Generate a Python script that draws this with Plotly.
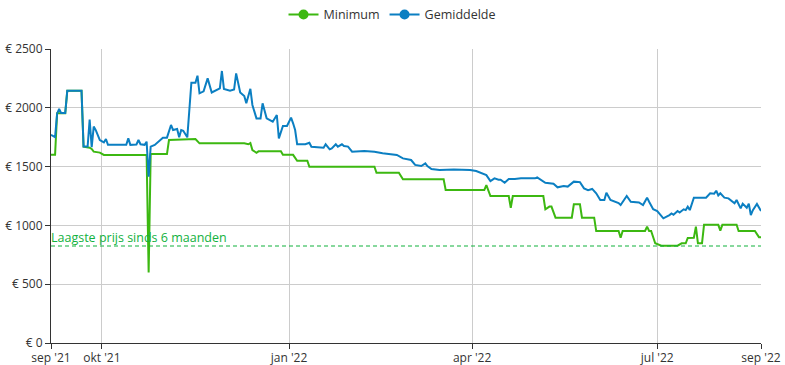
import plotly.graph_objects as go

# ---- data ----
avg_dates = ["2021-09-06","2021-09-08","2021-09-09","2021-09-10","2021-09-11","2021-09-13","2021-09-14","2021-09-21","2021-09-22","2021-09-24",
             "2021-09-25","2021-09-26","2021-09-27","2021-09-28","2021-09-30","2021-10-02","2021-10-03","2021-10-04","2021-10-13","2021-10-14",
             "2021-10-15","2021-10-18","2021-10-19","2021-10-20","2021-10-22","2021-10-23","2021-10-24","2021-10-25","2021-10-27","2021-10-29",
             "2021-10-31","2021-11-02","2021-11-04","2021-11-05","2021-11-07","2021-11-08","2021-11-09","2021-11-10","2021-11-12","2021-11-14",
             "2021-11-16","2021-11-17","2021-11-18","2021-11-20","2021-11-22","2021-11-24","2021-11-27","2021-11-28","2021-11-29","2021-11-30",
             "2021-12-03","2021-12-05","2021-12-06","2021-12-08","2021-12-10","2021-12-11","2021-12-13","2021-12-14","2021-12-16","2021-12-18",
             "2021-12-19","2021-12-21","2021-12-24","2021-12-26","2021-12-27","2021-12-29","2021-12-31","2022-01-02","2022-01-03","2022-01-04",
             "2022-01-05","2022-01-09","2022-01-11","2022-01-12","2022-01-18","2022-01-19","2022-01-21","2022-01-22","2022-01-24","2022-01-25",
             "2022-01-27","2022-01-28","2022-01-30","2022-02-01","2022-02-07","2022-02-12","2022-02-16","2022-02-23","2022-02-26","2022-03-02",
             "2022-03-04","2022-03-07","2022-03-09","2022-03-10","2022-03-12","2022-03-16","2022-03-23","2022-03-31","2022-04-03","2022-04-06",
             "2022-04-08","2022-04-10","2022-04-12","2022-04-14","2022-04-15","2022-04-17","2022-04-19","2022-04-22","2022-04-25","2022-05-02",
             "2022-05-03","2022-05-07","2022-05-11","2022-05-13","2022-05-16","2022-05-18","2022-05-21","2022-05-24","2022-05-26","2022-05-28",
             "2022-05-30","2022-06-01","2022-06-03","2022-06-05","2022-06-06","2022-06-08","2022-06-10","2022-06-12","2022-06-13","2022-06-16",
             "2022-06-18","2022-06-22","2022-06-24","2022-06-26","2022-06-27","2022-06-29","2022-07-01","2022-07-04","2022-07-07","2022-07-08",
             "2022-07-09","2022-07-11","2022-07-12","2022-07-14","2022-07-15","2022-07-16","2022-07-17","2022-07-19","2022-07-25","2022-07-27",
             "2022-07-29","2022-07-30","2022-07-31","2022-08-01","2022-08-03","2022-08-05","2022-08-08","2022-08-09","2022-08-11","2022-08-12",
             "2022-08-14","2022-08-15","2022-08-16","2022-08-17","2022-08-19","2022-08-21"]
avg_values = [1770,1750,1950,1990,1955,1955,2145,2145,1670,1670,
              1900,1665,1840,1810,1725,1705,1735,1685,1685,1740,
              1685,1688,1726,1690,1685,1712,1415,1670,1684,1712,
              1746,1746,1854,1811,1820,1749,1811,1805,1749,2213,
              2213,2273,2123,2140,2250,2130,2160,2165,2313,2160,
              2145,2155,2293,2130,2100,2038,2162,2024,1910,1910,
              2038,1910,1882,1939,1740,1845,1845,1916,1868,1811,
              1690,1690,1703,1669,1661,1690,1647,1655,1690,1670,
              1690,1675,1670,1627,1632,1627,1613,1599,1570,1556,
              1514,1505,1528,1505,1480,1471,1475,1471,1462,1443,
              1428,1377,1400,1389,1389,1363,1394,1394,1400,1400,
              1409,1363,1355,1324,1335,1330,1372,1368,1315,1300,
              1310,1273,1216,1216,1278,1216,1201,1190,1173,1250,
              1201,1195,1173,1236,1201,1137,1122,1060,1088,1102,
              1090,1122,1110,1137,1130,1159,1130,1236,1236,1273,
              1270,1295,1255,1273,1236,1230,1188,1216,1145,1185,
              1150,1185,1088,1130,1182,1122]

min_dates = ["2021-09-06","2021-09-08","2021-09-09","2021-09-13","2021-09-14","2021-09-21","2021-09-22","2021-09-25","2021-09-26","2021-09-27",
             "2021-09-30","2021-10-02","2021-10-23","2021-10-24","2021-10-25","2021-11-02","2021-11-03","2021-11-12","2021-11-16","2021-11-18",
             "2021-12-10","2021-12-12","2021-12-13","2021-12-14","2021-12-16","2021-12-17","2021-12-28","2021-12-29","2022-01-03","2022-01-05",
             "2022-01-10","2022-01-11","2022-02-12","2022-02-13","2022-02-24","2022-02-26","2022-03-18","2022-03-19","2022-04-07","2022-04-08",
             "2022-04-10","2022-04-19","2022-04-20","2022-04-21","2022-05-06","2022-05-07","2022-05-09","2022-05-10","2022-05-12","2022-05-20",
             "2022-05-21","2022-05-24","2022-05-25","2022-05-31","2022-06-01","2022-06-12","2022-06-13","2022-06-14","2022-06-25","2022-06-26",
             "2022-06-27","2022-06-28","2022-06-30","2022-07-03","2022-07-11","2022-07-13","2022-07-15","2022-07-16","2022-07-19","2022-07-20",
             "2022-07-21","2022-07-23","2022-07-24","2022-07-31","2022-08-01","2022-08-02","2022-08-09","2022-08-10","2022-08-18","2022-08-20",
             "2022-08-21"]
min_values = [1600,1600,1953,1953,2145,2145,1669,1661,1650,1627,
              1619,1599,1599,600,1607,1607,1726,1728,1735,1698,
              1698,1690,1700,1641,1618,1630,1630,1600,1600,1550,
              1550,1499,1499,1448,1448,1392,1392,1301,1301,1343,
              1250,1250,1150,1250,1250,1137,1160,1160,1066,1066,
              1179,1179,1066,1066,952,952,895,952,952,989,
              952,952,848,828,828,848,848,893,895,989,
              848,848,1005,1005,955,1005,1005,952,952,900,
              900]

lowest_6m = 825
lowest_label = "Laagste prijs sinds 6 maanden"

x_range = ["2021-09-06", "2022-08-21"]
x_tick_dates = ["2021-09-06", "2021-10-01", "2022-01-01", "2022-04-01", "2022-07-01", "2022-08-21"]
x_tick_labels = ["sep '21", "okt '21", "jan '22", "apr '22", "jul '22", "sep '22"]
y_tick_values = [0, 500, 1000, 1500, 2000, 2500]
y_tick_labels = ["€ 0", "€ 500", "€ 1000", "€ 1500", "€ 2000", "€ 2500"]

GREEN = "#3cb811"
BLUE = "#0b7fc2"
MARK = "#11b13d"
FONT = "Open Sans, Noto Sans, sans-serif"

fig = go.Figure()

fig.add_trace(go.Scatter(x=min_dates, y=min_values, mode="lines", name="Minimum",
                         line=dict(color=GREEN, width=2), showlegend=False, hoverinfo="skip"))
fig.add_trace(go.Scatter(x=avg_dates, y=avg_values, mode="lines", name="Gemiddelde",
                         line=dict(color=BLUE, width=2), showlegend=False, hoverinfo="skip"))

# legend entries (line + circle icon)
fig.add_trace(go.Scatter(x=[None], y=[None], mode="lines+markers", name="Minimum",
                         line=dict(color=GREEN, width=2), marker=dict(color=GREEN, size=10)))
fig.add_trace(go.Scatter(x=[None], y=[None], mode="lines+markers", name="Gemiddelde",
                         line=dict(color=BLUE, width=2), marker=dict(color=BLUE, size=10)))

fig.add_shape(type="line", xref="paper", x0=0, x1=1, yref="y", y0=lowest_6m, y1=lowest_6m,
              line=dict(color=MARK, width=1.2, dash="4px,3px"))
fig.add_annotation(xref="paper", x=0, yref="y", y=lowest_6m, text=lowest_label,
                   showarrow=False, xanchor="left", yanchor="bottom", xshift=-2, yshift=-2,
                   font=dict(family=FONT, size=12.5, color=MARK))

fig.update_layout(
    width=785, height=365,
    margin=dict(l=51, r=24, t=49, b=22, autoexpand=False),
    paper_bgcolor="white", plot_bgcolor="white",
    font=dict(family=FONT, size=12, color="#333"),
    legend=dict(orientation="h", x=0.481, xanchor="center", y=1.167, yanchor="top",
                font=dict(size=12.5, color="#333"), itemwidth=30, bgcolor="rgba(0,0,0,0)"),
)
fig.update_xaxes(type="date", range=x_range, tickvals=x_tick_dates, ticktext=x_tick_labels,
                 automargin=False, ticklabelstandoff=-1,
                 showgrid=True, gridcolor="#cccccc", gridwidth=1,
                 showline=True, linecolor="#333", linewidth=1,
                 ticks="outside", ticklen=5, tickcolor="#333",
                 tickfont=dict(size=12, color="#333"), zeroline=False)
fig.update_yaxes(range=[0, 2500], tickvals=y_tick_values, ticktext=y_tick_labels,
                 automargin=False,
                 showgrid=True, gridcolor="#cccccc", gridwidth=1,
                 showline=True, linecolor="#333", linewidth=1,
                 ticks="outside", ticklen=5, tickcolor="#333",
                 tickfont=dict(size=12, color="#333"), zeroline=False)

fig.write_html("out.html", config={"displayModeBar": False},
               post_script="document.body.style.margin='0';document.body.style.overflow='hidden';")
